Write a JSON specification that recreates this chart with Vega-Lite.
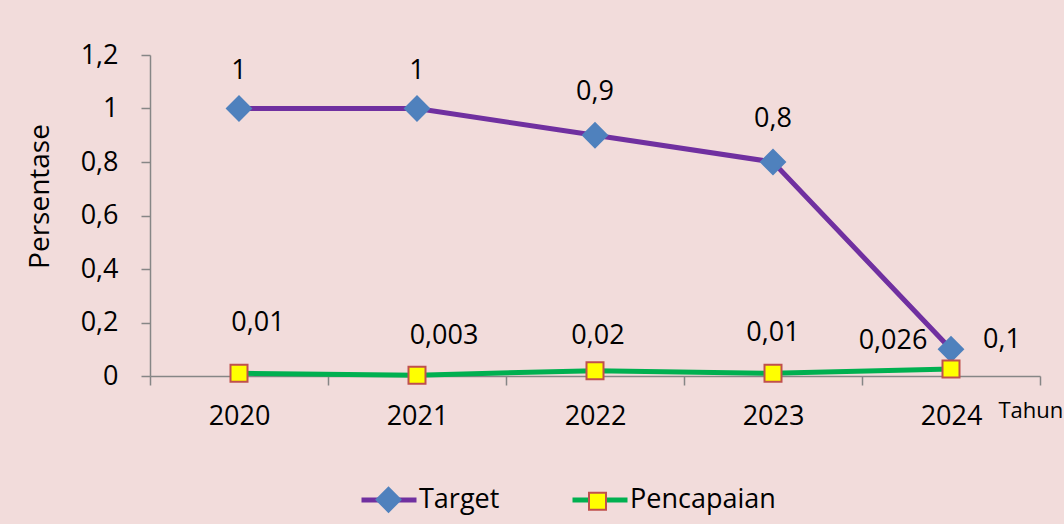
{
  "$schema": "https://vega.github.io/schema/vega-lite/v6.json",
  "width": 890,
  "height": 321,
  "autosize": {"type": "none"},
  "padding": {"left": 150, "top": 55, "right": 24, "bottom": 148},
  "background": "#F2DCDB",
  "config": {
    "view": {"stroke": null},
    "font": "Open Sans",
    "locale": {"number": {"decimal": ",", "thousands": ".", "grouping": [3], "currency": ["", ""]}},
    "text": {"font": "Open Sans", "fontSize": 27, "color": "#000000", "baseline": "middle", "align": "center"}
  },
  "data": {
    "values": [
      {"year": "2020", "series": "Target", "value": 1},
      {"year": "2021", "series": "Target", "value": 1},
      {"year": "2022", "series": "Target", "value": 0.9},
      {"year": "2023", "series": "Target", "value": 0.8},
      {"year": "2024", "series": "Target", "value": 0.1},
      {"year": "2020", "series": "Pencapaian", "value": 0.01},
      {"year": "2021", "series": "Pencapaian", "value": 0.003},
      {"year": "2022", "series": "Pencapaian", "value": 0.02},
      {"year": "2023", "series": "Pencapaian", "value": 0.01},
      {"year": "2024", "series": "Pencapaian", "value": 0.026}
    ]
  },
  "encoding": {
    "x": {
      "field": "year", "type": "ordinal",
      "scale": {"type": "band", "paddingInner": 0, "paddingOuter": 0},
      "axis": {
        "title": "Tahun", "titleFont": "Open Sans", "titleFontSize": 22, "titleFontWeight": "normal", "titleColor": "#000000",
        "titleX": 848, "titleY": 34, "titleAlign": "left", "titleBaseline": "middle", "titleAngle": 0,
        "labelAngle": 0, "labelFont": "Open Sans", "labelFontSize": 27, "labelColor": "#000000", "labelPadding": 18,
        "tickBand": "extent", "tickSize": 9, "tickColor": "#868686", "domainColor": "#868686", "domainWidth": 1.5, "tickWidth": 1.5,
        "grid": false
      }
    },
    "y": {
      "field": "value", "type": "quantitative",
      "scale": {"domain": [0, 1.2], "nice": false},
      "axis": {
        "title": "Persentase", "titleFont": "Open Sans", "titleFontSize": 28, "titleFontWeight": "normal", "titleColor": "#000000",
        "titleX": -110, "titleY": 141, "titleAngle": -90, "titleAlign": "center", "titleBaseline": "middle",
        "values": [0, 0.2, 0.4, 0.6, 0.8, 1, 1.2], "format": "~g",
        "labelFont": "Open Sans", "labelFontSize": 27, "labelColor": "#000000", "labelPadding": 23,
        "tickSize": 9, "tickColor": "#868686", "domainColor": "#868686", "domainWidth": 1.5, "tickWidth": 1.5,
        "grid": false
      }
    }
  },
  "layer": [
    {
      "mark": {"type": "line", "strokeWidth": 5},
      "encoding": {
        "color": {
          "field": "series", "type": "nominal", "sort": ["Target", "Pencapaian"],
          "scale": {"range": ["#7030A0", "#00B050"]},
          "legend": {
            "orient": "none", "legendX": 209, "legendY": 415, "direction": "horizontal",
            "title": null, "symbolType": "stroke", "symbolSize": 3025, "symbolStrokeWidth": 5,
            "labelFont": "Open Sans", "labelFontSize": 27, "labelColor": "#000000", "labelOffset": 0,
            "columnPadding": 62, "padding": 0
          }
        }
      }
    },
    {
      "mark": {"type": "point", "filled": true, "opacity": 1, "strokeWidth": 2},
      "encoding": {
        "shape": {
          "field": "series", "type": "nominal",
          "scale": {"domain": ["Target", "Pencapaian"], "range": ["diamond", "square"]},
          "legend": {
            "orient": "none", "legendX": 225, "legendY": 431, "direction": "horizontal",
            "title": null, "labelExpr": "''", "labelFontSize": 27, "labelOpacity": 0,
            "labelOffset": 32, "columnPadding": 150, "padding": 0, "symbolOpacity": 1,
            "symbolStrokeWidth": 2
          }
        },
        "fill": {
          "field": "series", "type": "nominal",
          "scale": {"domain": ["Target", "Pencapaian"], "range": ["#4F81BD", "#FFFF00"]}
        },
        "stroke": {
          "field": "series", "type": "nominal",
          "scale": {"domain": ["Target", "Pencapaian"], "range": ["#4F81BD", "#C0504D"]}
        },
        "size": {
          "field": "series", "type": "nominal",
          "scale": {"domain": ["Target", "Pencapaian"], "range": [576, 289]}
        }
      }
    },
    {
      "transform": [{"filter": "datum.series == 'Target' && (datum.year == '2020' || datum.year == '2021')"}],
      "mark": {"type": "text", "dy": -38},
      "encoding": {"text": {"field": "value", "type": "quantitative", "format": "~g"}}
    },
    {
      "transform": [{"filter": "datum.series == 'Target' && (datum.year == '2022' || datum.year == '2023')"}],
      "mark": {"type": "text", "dy": -43},
      "encoding": {"text": {"field": "value", "type": "quantitative", "format": "~g"}}
    },
    {
      "transform": [{"filter": "datum.series == 'Target' && datum.year == '2024'"}],
      "mark": {"type": "text", "dx": 51, "dy": -9},
      "encoding": {"text": {"field": "value", "type": "quantitative", "format": "~g"}}
    },
    {
      "transform": [{"filter": "datum.series == 'Pencapaian' && datum.year == '2020'"}],
      "mark": {"type": "text", "dx": 19, "dy": -50},
      "encoding": {"text": {"field": "value", "type": "quantitative", "format": "~g"}}
    },
    {
      "transform": [{"filter": "datum.series == 'Pencapaian' && datum.year == '2021'"}],
      "mark": {"type": "text", "dx": 27, "dy": -39},
      "encoding": {"text": {"field": "value", "type": "quantitative", "format": "~g"}}
    },
    {
      "transform": [{"filter": "datum.series == 'Pencapaian' && datum.year == '2022'"}],
      "mark": {"type": "text", "dx": 3, "dy": -35},
      "encoding": {"text": {"field": "value", "type": "quantitative", "format": "~g"}}
    },
    {
      "transform": [{"filter": "datum.series == 'Pencapaian' && datum.year == '2023'"}],
      "mark": {"type": "text", "dx": 0, "dy": -40},
      "encoding": {"text": {"field": "value", "type": "quantitative", "format": "~g"}}
    },
    {
      "transform": [{"filter": "datum.series == 'Pencapaian' && datum.year == '2024'"}],
      "mark": {"type": "text", "dx": -58, "dy": -28},
      "encoding": {"text": {"field": "value", "type": "quantitative", "format": "~g"}}
    }
  ]
}
